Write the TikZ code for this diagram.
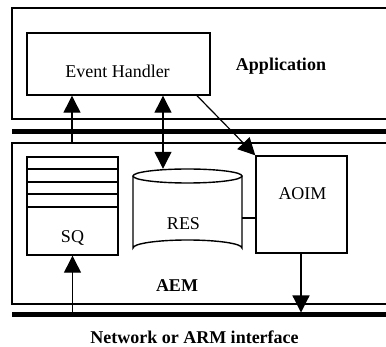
\documentclass[tikz,border=0pt]{standalone}
\usepackage{fontspec}
\setmainfont{Liberation Serif}
\usepackage{tikz}
\usetikzlibrary{arrows.meta, calc}

\begin{document}
\begin{tikzpicture}[x=1pt, y=-1pt,
    box/.style={draw, line width=1.4pt, minimum width=#1, inner sep=0pt},
    lbl/.style={anchor=base, inner sep=0pt, font=\fontsize{18}{20}\selectfont},
    blbl/.style={lbl, font=\fontsize{18}{20}\selectfont\bfseries},
    tip/.tip={Triangle[width=17pt, length=17pt]},
    arr/.style={line width=1.2pt, -tip},
    bus/.style={line width=5pt}]
  \useasboundingbox (0,0) rectangle (386,347);
  \clip (0,0) rectangle (386,347);

  % application layer and the two buses
  \draw[line width=1.4pt] (12,8) rectangle (400,119);
  \draw[bus] (12,132) -- (400,132);
  \draw[line width=1.4pt] (12,143) rectangle (400,304);
  \draw[bus] (12,315) -- (400,315);
  \coordinate (aemtop) at (72,143);
  \coordinate (netbus) at (0,315);

  % boxes
  \node[box=183pt, minimum height=62pt] (eh) at (118.5,64) {};
  \node[box=91pt, minimum height=98pt] (sq) at (72.5,206) {};
  \foreach \y in {169,182,194,207} {
    \draw[line width=1.4pt] (sq.west |- 0,\y) -- (sq.east |- 0,\y);
  }
  \node[box=91pt, minimum height=97pt] (aoim) at (301.5,204.5) {};

  % RES drum
  \node[minimum width=109pt, minimum height=87pt, inner sep=0pt] (res) at (187.5,212.5) {};
  \draw[line width=1.4pt] (133,176) -- (133,248)
    arc[start angle=180, end angle=360, x radius=54.5, y radius=8] -- (242,176);
  \draw[line width=1.4pt] (187.5,176) ellipse[x radius=54.5, y radius=7];
  \draw[line width=1.2pt] (242,218) -- (aoim.west |- 0,218);

  % labels
  \node[lbl] (ehtext) at (117.5,78) {Event Handler};
  \node[blbl] (apptext) at (281,71) {Application};
  \node[lbl] (sqtext) at (72.5,243) {SQ};
  \node[lbl] (restext) at (183.5,230) {RES};
  \node[lbl] (aoimtext) at (302.5,200) {AOIM};
  \node[blbl] (aemtext) at (177,292) {AEM};
  \node[blbl] (nettext) at (194.5,344) {Network or ARM interface};

  % event paths
  \draw[arr] (aemtop) -- (eh.south -| aemtop);
  \draw[arr, tip-tip] (eh.south -| 163,0) -- (res.north -| 163,0);
  \draw[arr] (eh.south -| 197,0) -- (aoim.north west);
  \draw[arr, shorten >=2.5pt] (aoim.south -| 301,0) -- (netbus -| 301,0);
  \draw[arr] (netbus -| sq.south) -- (sq.south);
\end{tikzpicture}
\end{document}
